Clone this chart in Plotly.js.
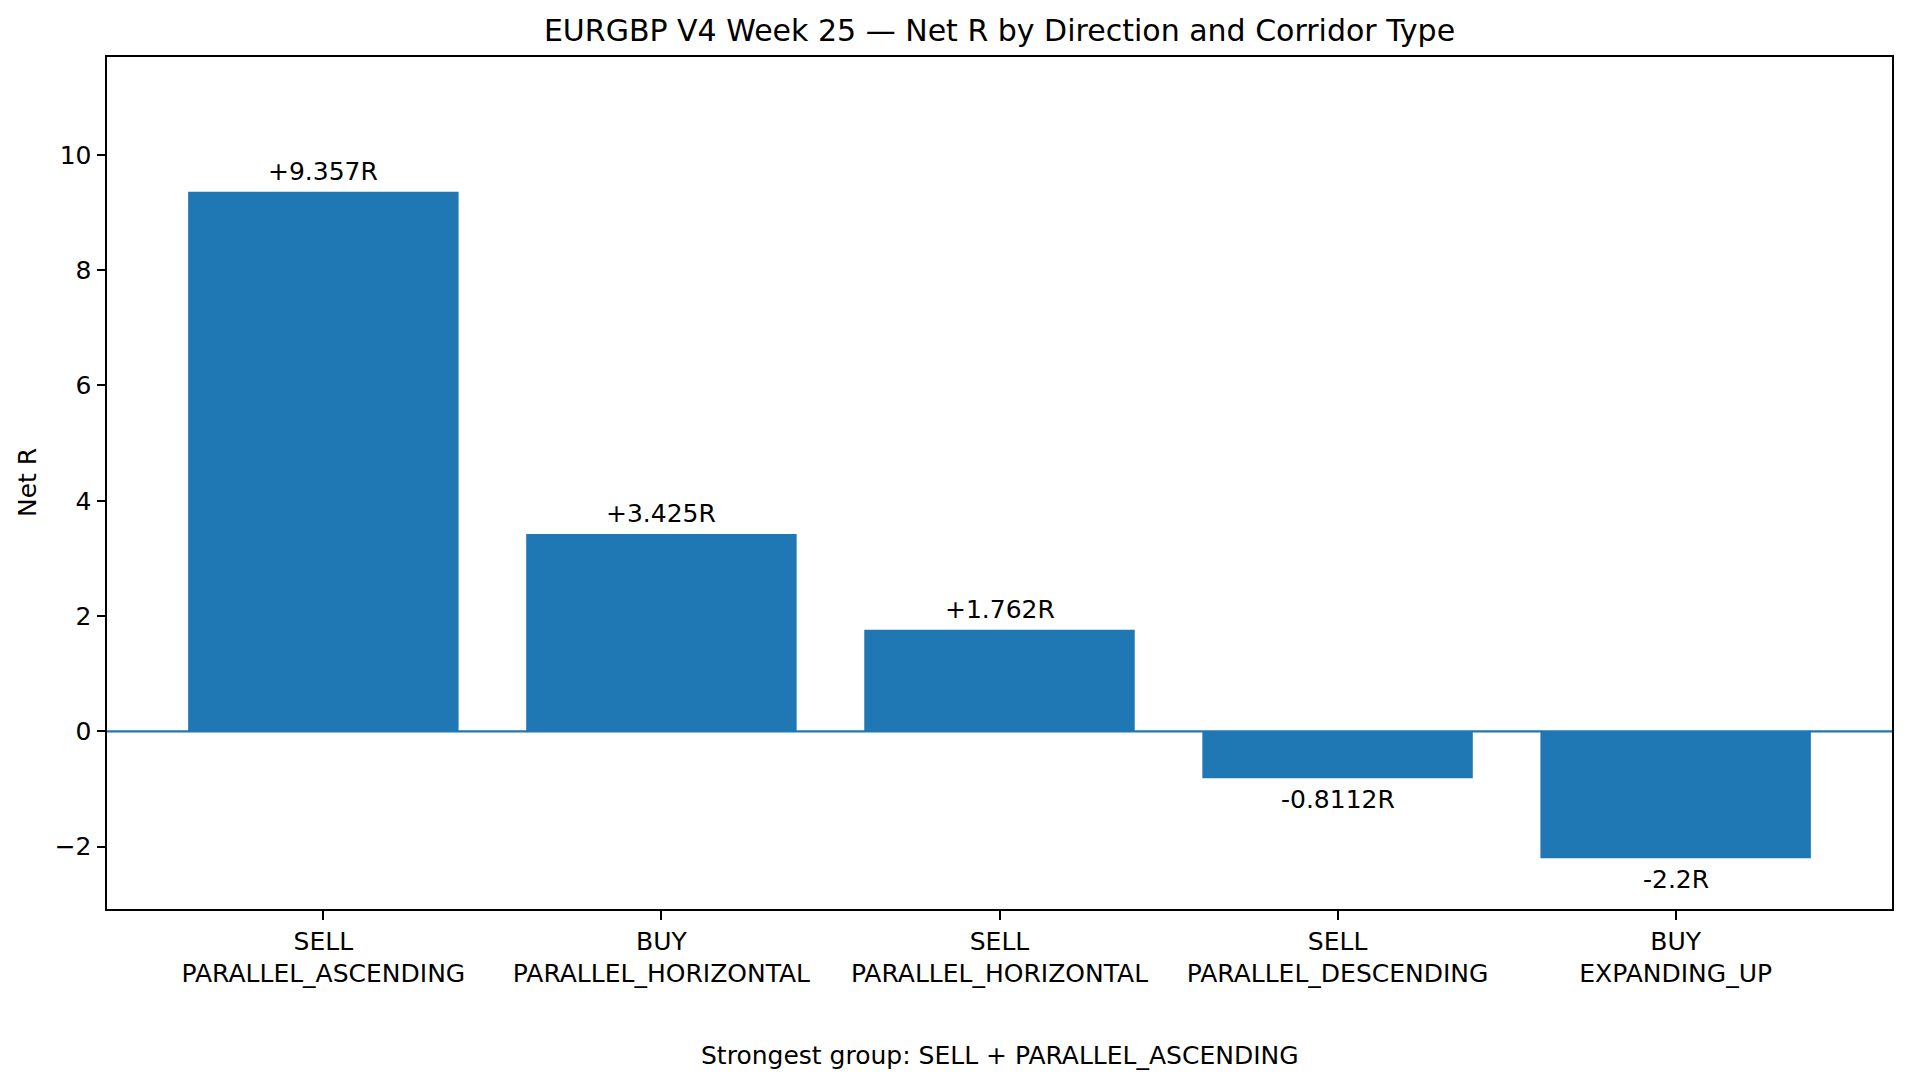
<!DOCTYPE html>
<html>
<head>
<meta charset="utf-8">
<script src="https://cdn.plot.ly/plotly-3.0.1.min.js"></script>
<style>
  html, body { margin: 0; padding: 0; background: #ffffff; }
  #chart { width: 1910px; height: 1089px; }
</style>
</head>
<body>
<div id="chart"></div>
<script>
const directions = ["SELL", "BUY", "SELL", "SELL", "BUY"];
const corridors = ["PARALLEL_ASCENDING", "PARALLEL_HORIZONTAL", "PARALLEL_HORIZONTAL", "PARALLEL_DESCENDING", "EXPANDING_UP"];
const netR = [9.357, 3.425, 1.762, -0.8112, -2.2];
const valueLabels = ["+9.357R", "+3.425R", "+1.762R", "-0.8112R", "-2.2R"];
const yTicks = [-2, 0, 2, 4, 6, 8, 10];
const titleText = "EURGBP V4 Week 25 — Net R by Direction and Corridor Type";
const footerText = "Strongest group: SELL + PARALLEL_ASCENDING";
const yLabel = "Net R";

const FONT = "DejaVu Sans, sans-serif";
const FS = 25;
const BLUE = "#1f77b4";
const idx = netR.map((_, i) => i);
const tickText = directions.map((d, i) => d + "<br>" + corridors[i]);

const trace = {
  type: "bar",
  x: idx,
  y: netR,
  width: 0.8,
  marker: { color: BLUE, line: { width: 0 } },
  hoverinfo: "skip",
  showlegend: false
};

const annotations = netR.map((v, i) => ({
  x: i, y: v, xref: "x", yref: "y",
  text: valueLabels[i],
  showarrow: false,
  xanchor: "center",
  yanchor: v >= 0 ? "bottom" : "top",
  yshift: v >= 0 ? 4 : -5,
  font: { family: FONT, size: FS, color: "#000" }
}));

annotations.push({
  x: 0.5, y: -0.172, xref: "paper", yref: "paper",
  text: footerText, showarrow: false,
  xanchor: "center", yanchor: "middle",
  font: { family: FONT, size: FS, color: "#000" }
});
annotations.push({
  x: -0.0448, y: 0.5, xref: "paper", yref: "paper",
  text: yLabel, showarrow: false, textangle: -90,
  xanchor: "center", yanchor: "middle",
  font: { family: FONT, size: FS, color: "#000" }
});

const layout = {
  width: 1910, height: 1089,
  paper_bgcolor: "#fff", plot_bgcolor: "#fff",
  margin: { l: 107, r: 18, t: 57, b: 180 },
  font: { family: FONT, size: FS, color: "#000" },
  title: {
    text: titleText,
    font: { family: FONT, size: 30, color: "#000" },
    x: 0.5, xref: "paper", xanchor: "center",
    y: 1 - 30 / 1089, yref: "container", yanchor: "middle"
  },
  xaxis: {
    range: [-0.64, 4.64],
    tickmode: "array", tickvals: idx, ticktext: tickText,
    ticks: "outside", ticklen: 8.5, tickwidth: 2, tickcolor: "#000",
    showline: true, linecolor: "#000", linewidth: 2, mirror: true,
    showgrid: false, zeroline: false,
    tickfont: { family: FONT, size: FS, color: "#000" }
  },
  yaxis: {
    range: [-3.08, 11.696],
    tickmode: "array", tickvals: yTicks,
    ticks: "outside", ticklen: 8.5, tickwidth: 2, tickcolor: "#000",
    showline: true, linecolor: "#000", linewidth: 2, mirror: true,
    showgrid: false, zeroline: false,
    tickfont: { family: FONT, size: FS, color: "#000" }
  },
  shapes: [{
    type: "line", xref: "paper", yref: "y",
    x0: 0, x1: 1, y0: 0, y1: 0,
    line: { color: BLUE, width: 2.4 }, layer: "above"
  }],
  annotations: annotations,
  bargap: 0.2
};

Plotly.newPlot("chart", [trace], layout, { displayModeBar: false, staticPlot: true });
</script>
</body>
</html>
